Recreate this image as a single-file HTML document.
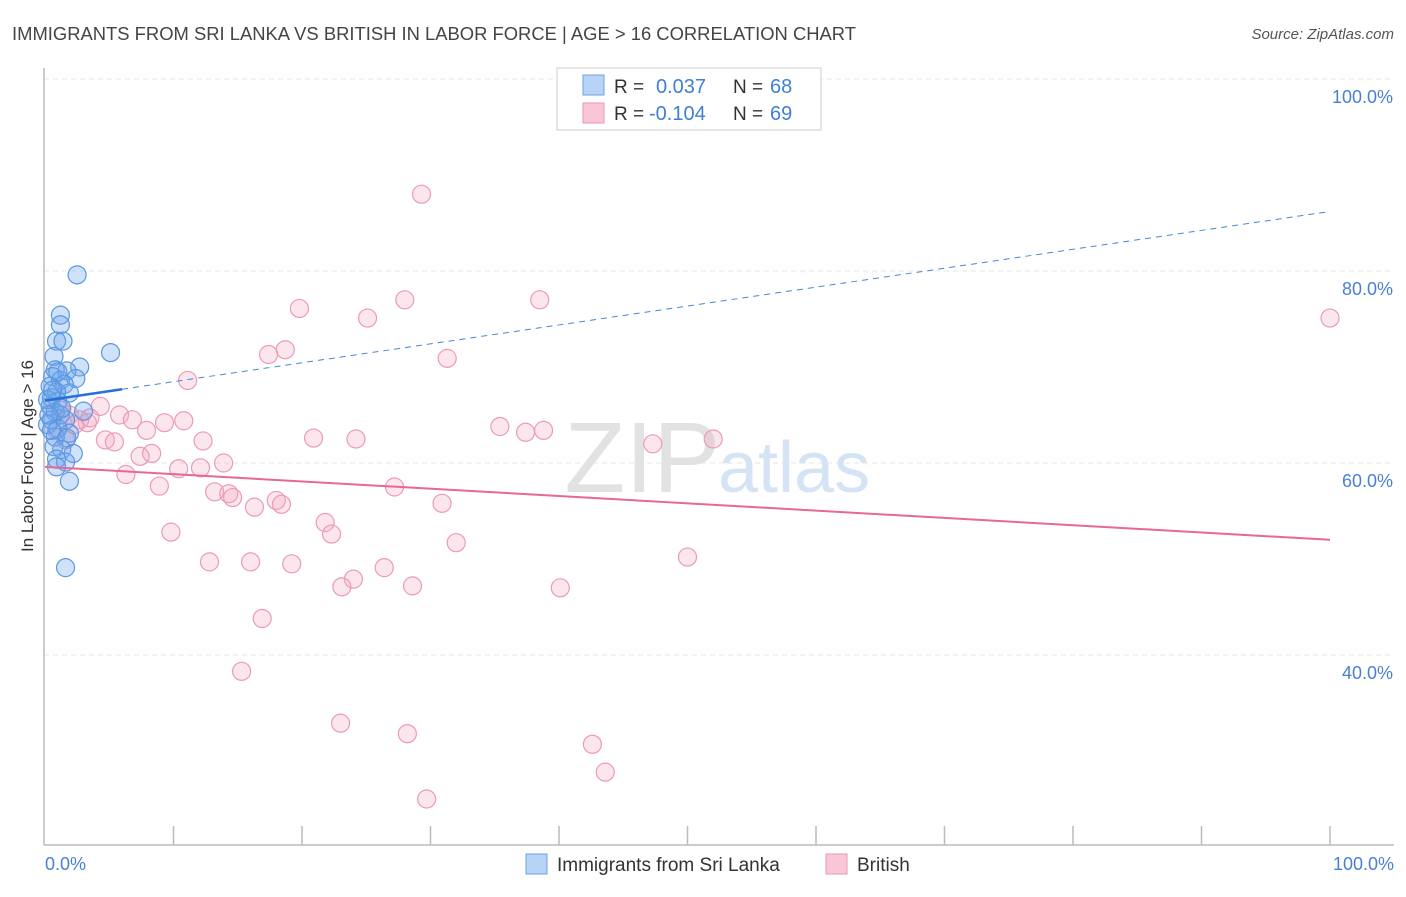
<!DOCTYPE html>
<html><head><meta charset="utf-8"><style>
body{margin:0;background:#fff;font-family:"Liberation Sans",sans-serif;}
svg text{font-family:"Liberation Sans",sans-serif;}
</style></head><body>
<svg id="chart" width="1406" height="892" xmlns="http://www.w3.org/2000/svg">
<text x="12" y="40" font-size="18" fill="#444" textLength="844" lengthAdjust="spacingAndGlyphs">IMMIGRANTS FROM SRI LANKA VS BRITISH IN LABOR FORCE | AGE &gt; 16 CORRELATION CHART</text>
<text x="1394" y="39" font-size="15" fill="#555" font-style="italic" text-anchor="end">Source: ZipAtlas.com</text>
<g id="grid"></g>
<text x="720" y="492" font-size="100" fill="#e2e2e2" text-anchor="end" font-family="Liberation Serif">ZIP</text>
<text x="718" y="492" font-size="72" fill="#d5e4f5">atlas</text>
<line x1="44" y1="68" x2="44" y2="845" stroke="#bbb" stroke-width="1.5"/>
<line x1="44" y1="845" x2="1394" y2="845" stroke="#bbb" stroke-width="1.5"/>
<text transform="translate(33,456) rotate(-90)" font-size="17" fill="#333" text-anchor="middle">In Labor Force | Age &gt; 16</text>
<text x="45" y="870" font-size="18" fill="#4a7fd4">0.0%</text>
<text x="1394" y="870" font-size="18" fill="#4a7fd4" text-anchor="end">100.0%</text>
<g id="marks"></g>
<g>
<rect x="557" y="68" width="264" height="62" fill="#fff" stroke="#ccc"/>
<rect x="583" y="75" width="21" height="20" fill="#b7d3f5" stroke="#6ea2e6"/>
<rect x="583" y="103" width="21" height="20" fill="#f9c6d6" stroke="#eb97b3"/>
<text x="614" y="93" font-size="19" fill="#333">R = </text><text x="656" y="93" font-size="20" fill="#3f7fd6">0.037</text>
<text x="733" y="93" font-size="19" fill="#333">N = </text><text x="770" y="93" font-size="20" fill="#3f7fd6">68</text>
<text x="614" y="120" font-size="19" fill="#333">R = </text><text x="649" y="120" font-size="20" fill="#3f7fd6">-0.104</text>
<text x="733" y="120" font-size="19" fill="#333">N = </text><text x="770" y="120" font-size="20" fill="#3f7fd6">69</text>
</g>
<g>
<rect x="526" y="854" width="21" height="20" fill="#b7d3f5" stroke="#6ea2e6"/>
<text x="557" y="871" font-size="19" fill="#333">Immigrants from Sri Lanka</text>
</g>
<g>
<rect x="826" y="854" width="21" height="20" fill="#f9c6d6" stroke="#eb97b3"/>
<text x="857" y="871" font-size="19" fill="#333">British</text>
</g>
</svg>
<script>
const yTicks=[40,60,80,100];
const yTickLabels=["40.0%","60.0%","80.0%","100.0%"];
const xTicks=[10,20,30,40,50,60,70,80,90,100];
const blueX=[2.5,1.2,1.2,0.9,1.4,5.1,0.7,2.7,0.8,1.7,0.6,1.2,2.4,1.5,1.9,0.4,0.9,0.5,1.0,0.4,3.0,0.8,1.2,0.5,1.6,0.2,1.0,1.9,0.8,1.7,0.7,1.3,2.2,0.9,1.6,0.9,1.9,1.6,0.2,0.5,1.3,0.3,0.6,1.0];
const blueY=[79.6,75.4,74.4,72.7,72.7,71.5,71.1,70.0,69.7,69.6,69.0,68.6,68.8,68.2,67.3,68.0,67.4,66.8,66.4,65.9,65.4,65.3,65.0,64.5,64.5,64.0,63.6,63.1,62.7,62.6,61.7,61.4,61.0,60.4,60.1,59.6,58.1,49.1,66.6,63.4,65.7,65.0,67.6,69.5];
const pinkX=[29.3,19.8,28.0,38.5,25.1,100,18.7,17.4,31.3,11.1,4.3,5.8,6.8,9.3,10.8,3.3,20.9,24.2,35.4,37.4,38.8,47.3,52.0,4.7,5.4,7.9,7.4,8.3,12.3,13.9,10.4,12.1,6.3,8.9,27.2,13.2,14.3,14.6,18.0,18.4,16.3,30.9,21.8,22.3,9.8,32.0,50.0,12.8,16.0,19.2,26.4,24.0,23.1,28.6,40.1,16.9,15.3,23.0,28.2,42.6,43.6,29.7,1.2,1.9,2.7,0.9,1.6,2.3,3.5];
const pinkY=[88.0,76.1,77.0,77.0,75.1,75.1,71.8,71.3,70.9,68.6,65.9,65.0,64.5,64.2,64.4,64.2,62.6,62.5,63.8,63.2,63.4,62.0,62.5,62.4,62.2,63.4,60.7,61.0,62.3,60.0,59.4,59.5,58.8,57.6,57.5,57.0,56.8,56.4,56.1,55.7,55.4,55.8,53.8,52.6,52.8,51.7,50.2,49.7,49.7,49.5,49.1,47.9,47.1,47.2,47.0,43.8,38.3,32.9,31.8,30.7,27.8,25.0,65.5,65.0,64.5,63.4,62.4,64.0,64.7];
const blueTrend=[66.5,86.2];
const pinkTrend=[59.6,52.0];
const blueSolidEnd=6;
const NS="http://www.w3.org/2000/svg";
const sx=v=>45+v*12.85;
const sy=v=>79+(100-v)*9.6;
function mk(tag,attrs,parent){const e=document.createElementNS(NS,tag);for(const k in attrs)e.setAttribute(k,attrs[k]);parent.appendChild(e);return e;}
const grid=document.getElementById('grid'),marks=document.getElementById('marks');
yTicks.forEach((t,i)=>{
  const l=mk('line',{x1:44,x2:1394,y1:sy(t),y2:sy(t),stroke:'#e6e6e6','stroke-dasharray':'5,4'},grid);
  
  
  const tx=mk('text',{x:1393,y:sy(t)+24,'font-size':18,fill:'#4a7fd4','text-anchor':'end'},grid);
  tx.textContent=yTickLabels[i];
  
  
});
xTicks.forEach(t=>{
  const l=mk('line',{x1:sx(t),x2:sx(t),y1:826,y2:845,stroke:'#bbb','stroke-width':1.5},grid);
  
  
});
pinkX.forEach((x,i)=>{
  const c=mk('circle',{cx:sx(x),cy:sy(pinkY[i]),r:9,fill:'rgba(244,165,195,0.28)',stroke:'#ec9ab6','stroke-width':1.2},marks);
  
  
});
blueX.forEach((x,i)=>{
  const c=mk('circle',{cx:sx(x),cy:sy(blueY[i]),r:9,fill:'rgba(110,165,235,0.32)',stroke:'#5b97e0','stroke-width':1.2},marks);
  
  
});
const by=x=>blueTrend[0]+(blueTrend[1]-blueTrend[0])*x/100;
let l=mk('line',{x1:sx(blueSolidEnd),y1:sy(by(blueSolidEnd)),x2:sx(100),y2:sy(by(100)),stroke:'#4a84d8','stroke-width':1,'stroke-dasharray':'6,5'},marks);


l=mk('line',{x1:sx(0),y1:sy(by(0)),x2:sx(blueSolidEnd),y2:sy(by(blueSolidEnd)),stroke:'#2a6fd6','stroke-width':2.5},marks);


l=mk('line',{x1:sx(0),y1:sy(pinkTrend[0]),x2:sx(100),y2:sy(pinkTrend[1]),stroke:'#e86793','stroke-width':2},marks);


</script>
</body></html>
